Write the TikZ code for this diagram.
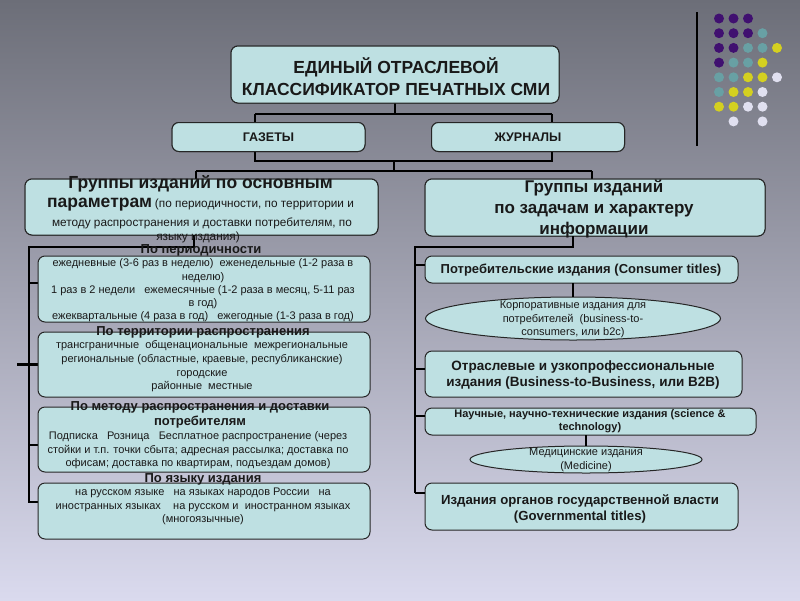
\documentclass[tikz,border=0pt]{standalone}
\usepackage{fontspec}
\setmainfont{Liberation Sans}
\usetikzlibrary{shapes.geometric}
\newcommand{\fsz}[2]{\fontsize{#1}{#2}\selectfont}
\definecolor{bgtop}{RGB}{108,110,120}
\definecolor{bgbot}{RGB}{218,218,238}
\definecolor{boxfill}{RGB}{190,224,226}
\definecolor{dpur}{RGB}{64,16,112}
\definecolor{dteal}{RGB}{104,160,164}
\definecolor{dyel}{RGB}{212,208,32}
\definecolor{dwht}{RGB}{224,224,240}
\begin{document}
\begin{tikzpicture}[x=1pt,y=-1pt,
  box/.style={draw=black!85, line width=1pt, fill=boxfill, rounded corners=7pt, inner sep=0pt, outer sep=0pt},
  ebox/.style={ellipse, draw=black!85, line width=1pt, fill=boxfill, inner sep=0pt, outer sep=0pt},
  conn/.style={line width=2.4pt, black},
  txt/.style={inner sep=0pt, align=center, text=black!90},
  dot/.style={circle, inner sep=0pt, minimum size=10pt}
]
\useasboundingbox (0,0) rectangle (800,600);
\shade[top color=bgtop, bottom color=bgbot] (0,0) rectangle (800,600);

% decoration
\draw[line width=1.3pt, black] (697,12) -- (697,146);
\foreach \c/\r [count=\i] in {
  {dpur,dpur,dpur}/0,
  {dpur,dpur,dpur,dteal}/1,
  {dpur,dpur,dteal,dteal,dyel}/2,
  {dpur,dteal,dteal,dyel}/3,
  {dteal,dteal,dyel,dyel,dwht}/4,
  {dteal,dyel,dyel,dwht}/5,
  {dyel,dyel,dwht,dwht}/6}{
  \foreach \cc [count=\j from 0] in \c {
    \node[dot, fill=\cc] (d\i\j) at (719+14.5*\j, 18.5+14.7*\r) {};
  }
}
\node[dot, fill=dwht] (d81) at (733.5,121.4) {};
\node[dot, fill=dwht] (d83) at (762.5,121.4) {};

% coordinates
\coordinate (tA) at (255,114);
\coordinate (tB) at (552,114);
\coordinate (tC) at (395,114);
\coordinate (bA) at (255,161);
\coordinate (bB) at (552,161);
\coordinate (bC) at (394,161);
\coordinate (cC) at (394,171);
\coordinate (cA) at (196,171);
\coordinate (cB) at (592,171);
\coordinate (lA) at (194,247);
\coordinate (lB) at (29,247);
\coordinate (lC) at (29,502);
\coordinate (s1) at (29,283);
\coordinate (s2) at (17,364.5);
\coordinate (s3) at (29,445);
\coordinate (rA) at (573,247);
\coordinate (rB) at (415,247);
\coordinate (rC) at (415,493);
\coordinate (q1) at (415,265);
\coordinate (q2) at (415,369);
\coordinate (q3) at (415,416);

% box anchors
\path
  node[box, minimum width=328pt, minimum height=57pt] (title) at (395,74.5) {}
  node[box, minimum width=193pt, minimum height=29pt] (gaz) at (268.5,137) {}
  node[box, minimum width=193pt, minimum height=29pt] (jur) at (528,137) {}
  node[box, minimum width=353pt, minimum height=56pt] (lgroup) at (201.5,207) {}
  node[box, minimum width=340pt, minimum height=57pt] (rgroup) at (595,207.5) {};

% connectors
\draw[conn] (title.south) -- (tC);
\draw[conn] (tA) -- (tB);
\draw[conn] (tA) -- (tA |- gaz.north);
\draw[conn] (tB) -- (tB |- jur.north);
\draw[conn] (bA |- gaz.south) -- (bA) -- (bB) -- (bB |- jur.south);
\draw[conn] (bC) -- (cC);
\draw[conn] (cA) -- (cB);
\draw[conn] (cA) -- (cA |- lgroup.north);
\draw[conn] (cB) -- (cB |- rgroup.north);

% boxes on top of connectors
\path
  node[box, minimum width=328pt, minimum height=57pt] at (title) {}
  node[box, minimum width=193pt, minimum height=29pt] at (gaz) {}
  node[box, minimum width=193pt, minimum height=29pt] at (jur) {}
  node[box, minimum width=353pt, minimum height=56pt] at (lgroup) {}
  node[box, minimum width=340pt, minimum height=57pt] at (rgroup) {};

% left sub-boxes
\draw[conn] (lA |- lgroup.south) -- (lA) -- (lB) -- (lC) -- (lC -| 38,0);
\draw[conn] (s1) -- (s1 -| 38,0);
\draw[conn] (s2) -- (s2 -| 38,0);
\draw[conn] (s3) -- (s3 -| 38,0);
\node[box, minimum width=332pt, minimum height=66pt] (p1) at (204,289) {};
\node[box, minimum width=332pt, minimum height=65pt] (p2) at (204,364.5) {};
\node[box, minimum width=332pt, minimum height=65pt] (p3) at (204,439.5) {};
\node[box, minimum width=332pt, minimum height=56pt] (p4) at (204,511) {};

% right column
\draw[conn] (rA |- rgroup.south) -- (rA) -- (rB) -- (rC);
\node[box, minimum width=313pt, minimum height=27pt] (cons) at (581.5,269.5) {};
\node[ebox, minimum width=295pt, minimum height=43pt] (e1) at (573,318.5) {};
\node[box, minimum width=317pt, minimum height=46pt] (otr) at (583.5,374) {};
\node[box, minimum width=331pt, minimum height=27pt] (sci) at (590.5,421.5) {};
\node[ebox, minimum width=232pt, minimum height=27pt] (e2) at (586,459.5) {};
\node[box, minimum width=313pt, minimum height=47pt] (gov) at (581.5,506.5) {};
\draw[conn] (q1) -- (q1 -| cons.west);
\draw[conn] (q2) -- (q2 -| otr.west);
\draw[conn] (q3) -- (q3 -| sci.west);
\draw[conn] (rC) -- (rC -| gov.west);
\draw[conn] (e1.north |- cons.south) -- (e1.north);
\draw[conn] (e2.north |- sci.south) -- (e2.north);

% texts
\node[txt, font=\bfseries\fsz{17.5}{22.5}] (tTitle) at (396,76.5) {ЕДИНЫЙ ОТРАСЛЕВОЙ\\КЛАССИФИКАТОР ПЕЧАТНЫХ СМИ};
\node[txt, font=\bfseries\fsz{12.5}{14}] (tGaz) at (gaz) {ГАЗЕТЫ};
\node[txt, font=\bfseries\fsz{12.5}{14}] (tJur) at (jur) {ЖУРНАЛЫ};

\node[txt, font=\bfseries\fsz{17.5}{19}] (lg1) at (200.5,184) {Группы изданий по основным};
\node[txt] (lg2) at (200.5,205) {{\bfseries\fsz{17.5}{19}параметрам} {\fsz{11.8}{13}(по периодичности, по территории и}};
\node[txt, font=\fsz{11.8}{13}] (lg3) at (202,223) {методу распространения и доставки потребителям, по};
\node[txt, font=\fsz{11.8}{13}] (lg4) at (198,237) {языку издания)};

\node[txt, font=\bfseries\fsz{13}{15}] (h1) at (201,250) {По периодичности};
\node[txt, font=\fsz{11}{13.3}] (b1) at (203,290.5) {ежедневные (3-6 раз в неделю)\ \ еженедельные (1-2 раза в\\неделю)\\1 раз в 2 недели\ \ \ ежемесячные (1-2 раза в месяц, 5-11 раз\\в год)\\ежеквартальные (4 раза в год)\ \ \ ежегодные (1-3 раза в год)};

\node[txt, font=\bfseries\fsz{13}{15}] (h2) at (203,332) {По территории распространения};
\node[txt, font=\fsz{11}{13.7}] (b2) at (202,366.5) {трансграничные\ \ общенациональные\ \ межрегиональные\\региональные (областные, краевые, республиканские)\\городские\\районные\ \ местные};

\node[txt, font=\bfseries\fsz{13}{15}] (h3) at (200,414.5) {По методу распространения и доставки\\потребителям};
\node[txt, font=\fsz{11}{13.5}] (b3) at (198,450.5) {Подписка\ \ \ Розница\ \ \ Бесплатное распространение (через\\стойки и т.п. точки сбыта; адресная рассылка; доставка по\\офисам; доставка по квартирам, подъездам домов)};

\node[txt, font=\bfseries\fsz{13}{15}] (h4) at (203,479) {По языку издания};
\node[txt, font=\fsz{11}{13.5}] (b4) at (203,506.5) {на русском языке\ \ \ на языках народов России\ \ \ на\\иностранных языках\ \ \ \ на русском и\ \ иностранном языках\\(многоязычные)};

\node[txt, font=\bfseries\fsz{17}{21}] (rg) at (594,209) {Группы изданий\\по задачам и характеру\\информации};
\node[txt, font=\bfseries\fsz{13}{14}] (tCons) at (581,270) {Потребительские издания (Consumer titles)};
\node[txt, font=\fsz{11}{13.5}] (tE1) at (573,319.5) {Корпоративные издания для\\потребителей\ \ (business-to-\\consumers, или b2c)};
\node[txt, font=\bfseries\fsz{13.5}{16}] (tOtr) at (583,375) {Отраслевые и узкопрофессиональные\\издания (Business-to-Business, или B2B)};
\node[txt, font=\bfseries\fsz{11}{13}] (tSci) at (590,421.5) {Научные, научно-технические издания (science \&\\technology)};
\node[txt, font=\fsz{11}{14}] (tE2) at (586,460) {Медицинские издания\\(Medicine)};
\node[txt, font=\bfseries\fsz{13.2}{16}] (tGov) at (580,509) {Издания органов государственной власти\\(Governmental titles)};
\end{tikzpicture}
\end{document}
